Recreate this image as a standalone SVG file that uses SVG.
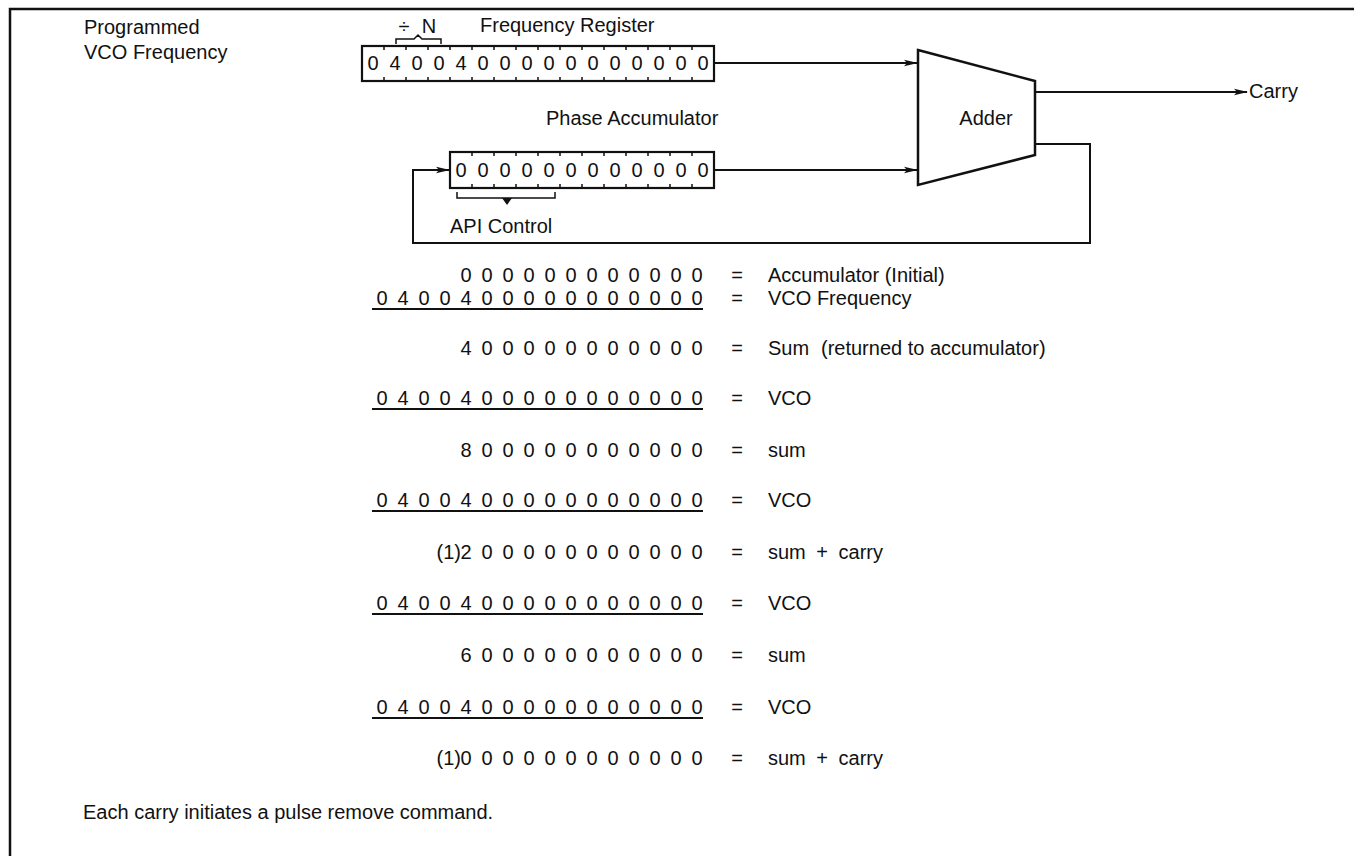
<svg xmlns="http://www.w3.org/2000/svg" width="1354" height="856" viewBox="0 0 1354 856">
<defs>
<marker id="ah" markerWidth="14" markerHeight="8" refX="13" refY="4" orient="auto" markerUnits="userSpaceOnUse">
<path d="M0,0.8 L14,4 L0,7.2 L3,4 z" fill="#111"/>
</marker>
</defs>
<style>
text{font-family:"Liberation Sans",Arial,sans-serif;font-size:20px;fill:#111}
.d{text-anchor:middle}
.ln{fill:none;stroke:#111;stroke-width:2}
.box{fill:#fff;stroke:#111;stroke-width:2.2}
.tk{fill:none;stroke:#111;stroke-width:1.5}
.ul{stroke:#111;stroke-width:2.2}
.m{text-anchor:middle}
</style>
<rect width="1354" height="856" fill="#fff"/>
<g id="frame"><path d="M10,856 V9 H1354" fill="none" stroke="#111" stroke-width="2.5"/></g>

<g id="title">
<text x="84" y="34">Programmed</text>
<text x="84" y="59">VCO Frequency</text>
</g>

<g id="freq-register">
<text x="480" y="32">Frequency Register</text>
<text x="404" y="33" class="m">÷</text>
<text x="429" y="33" class="m">N</text>
<path class="tk" d="M396,44 V39 H414 L418,35 L422,39 H441 V44"/>
<rect class="box" x="362" y="46" width="352" height="35"/>
<path class="tk" d="M384,46v4M406,46v4M428,46v4M450,46v4M472,46v4M494,46v4M516,46v4M538,46v4M560,46v4M582,46v4M604,46v4M626,46v4M648,46v4M670,46v4M692,46v4M384,81v-4M406,81v-4M428,81v-4M450,81v-4M472,81v-4M494,81v-4M516,81v-4M538,81v-4M560,81v-4M582,81v-4M604,81v-4M626,81v-4M648,81v-4M670,81v-4M692,81v-4"/>
<text class="d" x="373 395 417 439 461 483 505 527 549 571 593 615 637 659 681 703" y="70">0400400000000000</text>
</g>

<g id="phase-accumulator">
<text x="546" y="125">Phase Accumulator</text>
<rect class="box" x="450" y="152" width="264" height="36"/>
<path class="tk" d="M472,152v4M494,152v4M516,152v4M538,152v4M560,152v4M582,152v4M604,152v4M626,152v4M648,152v4M670,152v4M692,152v4M472,188v-4M494,188v-4M516,188v-4M538,188v-4M560,188v-4M582,188v-4M604,188v-4M626,188v-4M648,188v-4M670,188v-4M692,188v-4"/>
<text class="d" x="461 483 505 527 549 571 593 615 637 659 681 703" y="177">000000000000</text>
<path class="tk" d="M457,192 V198 H555 V192"/>
<path d="M502,198 H512 L507,205 z" fill="#111"/>
<text x="450" y="233">API Control</text>
</g>

<g id="adder">
<polygon points="918,50 1035,81 1035,155 918,185" fill="#fff" stroke="#111" stroke-width="2.5"/>
<text x="986" y="125" class="m">Adder</text>
</g>

<g id="carry">
<text x="1249" y="98">Carry</text>
</g>

<g id="connectors">
<path class="ln" d="M714,63 H917" marker-end="url(#ah)"/>
<path class="ln" d="M714,170 H917" marker-end="url(#ah)"/>
<path class="ln" d="M1035,92 H1247" marker-end="url(#ah)"/>
<path class="ln" d="M1035,144 H1090 V243 H413 V170 H449" marker-end="url(#ah)"/>
</g>

<g id="calculation">
<text class="d" x="466 487 508 529 550 571 592 613 634 655 676 697" y="282">000000000000</text>
<text class="m" x="737" y="282">=</text><text x="768" y="282">Accumulator (Initial)</text>

<text class="d" x="382 403 424 445 466 487 508 529 550 571 592 613 634 655 676 697" y="305">0400400000000000</text>
<line class="ul" x1="372" y1="309" x2="703" y2="309"/>
<text class="m" x="737" y="305">=</text><text x="768" y="305">VCO Frequency</text>

<text class="d" x="466 487 508 529 550 571 592 613 634 655 676 697" y="355">400000000000</text>
<text class="m" x="737" y="355">=</text><text x="768" y="355">Sum<tspan x="821">(returned to accumulator)</tspan></text>

<text class="d" x="382 403 424 445 466 487 508 529 550 571 592 613 634 655 676 697" y="405">0400400000000000</text>
<line class="ul" x1="372" y1="409" x2="703" y2="409"/>
<text class="m" x="737" y="405">=</text><text x="768" y="405">VCO</text>

<text class="d" x="466 487 508 529 550 571 592 613 634 655 676 697" y="457">800000000000</text>
<text class="m" x="737" y="457">=</text><text x="768" y="457">sum</text>

<text class="d" x="382 403 424 445 466 487 508 529 550 571 592 613 634 655 676 697" y="507">0400400000000000</text>
<line class="ul" x1="372" y1="511" x2="703" y2="511"/>
<text class="m" x="737" y="507">=</text><text x="768" y="507">VCO</text>

<text x="461" y="559" text-anchor="end">(1)</text>
<text class="d" x="466 487 508 529 550 571 592 613 634 655 676 697" y="559">200000000000</text>
<text class="m" x="737" y="559">=</text><text x="768" y="559" word-spacing="5">sum + carry</text>

<text class="d" x="382 403 424 445 466 487 508 529 550 571 592 613 634 655 676 697" y="610">0400400000000000</text>
<line class="ul" x1="372" y1="614" x2="703" y2="614"/>
<text class="m" x="737" y="610">=</text><text x="768" y="610">VCO</text>

<text class="d" x="466 487 508 529 550 571 592 613 634 655 676 697" y="662">600000000000</text>
<text class="m" x="737" y="662">=</text><text x="768" y="662">sum</text>

<text class="d" x="382 403 424 445 466 487 508 529 550 571 592 613 634 655 676 697" y="714">0400400000000000</text>
<line class="ul" x1="372" y1="718" x2="703" y2="718"/>
<text class="m" x="737" y="714">=</text><text x="768" y="714">VCO</text>

<text x="461" y="765" text-anchor="end">(1)</text>
<text class="d" x="466 487 508 529 550 571 592 613 634 655 676 697" y="765">000000000000</text>
<text class="m" x="737" y="765">=</text><text x="768" y="765" word-spacing="5">sum + carry</text>

<text x="83" y="819">Each carry initiates a pulse remove command.</text>
</g>
</svg>
